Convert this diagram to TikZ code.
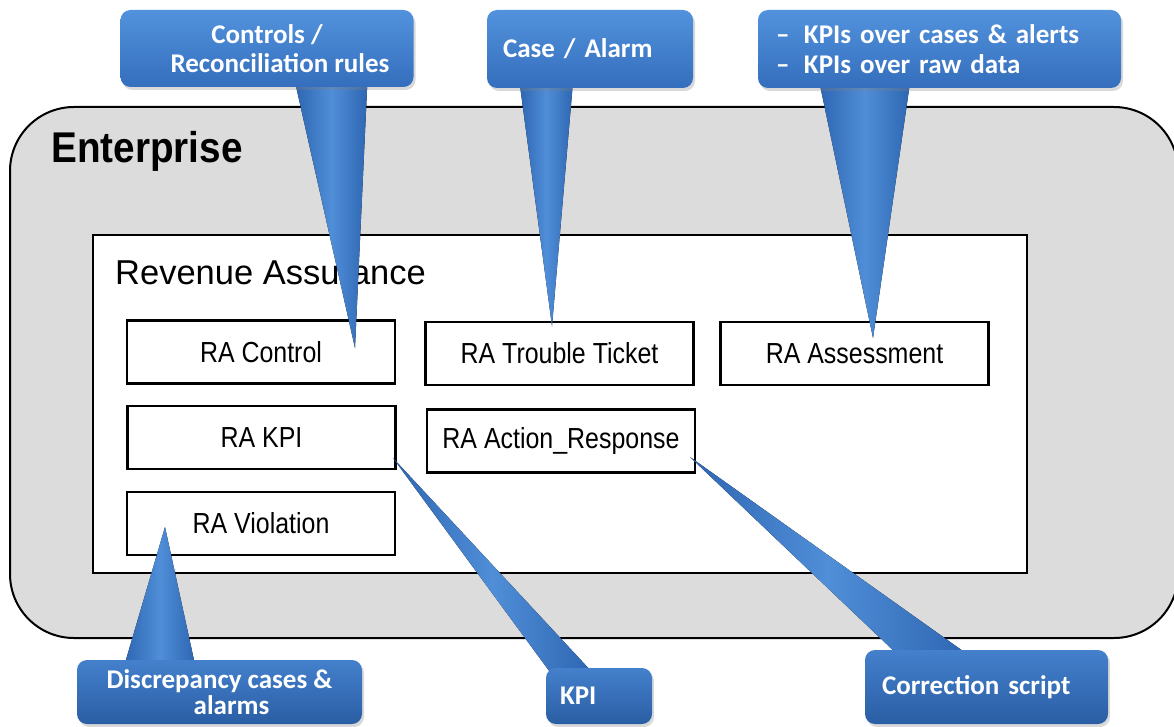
\documentclass[tikz,border=0pt]{standalone}
\usepackage{fontspec}
\setmainfont{Liberation Sans}
\newfontfamily\boxfont{Liberation Sans}[FakeStretch=0.86]
\newfontfamily\entfont{Liberation Sans}[FakeStretch=0.9]
\newfontfamily\calfont{Carlito}
\usetikzlibrary{shadows,calc}
\definecolor{entfill}{RGB}{220,220,220}
\definecolor{ctop}{RGB}{82,146,221}
\definecolor{cbot}{RGB}{52,110,188}
\definecolor{dtop}{RGB}{68,128,204}
\definecolor{dbot}{RGB}{42,94,164}
\definecolor{pmid}{RGB}{80,142,216}
\definecolor{pedge}{RGB}{46,102,178}
\pgfdeclarelayer{bg}
\pgfdeclarelayer{ptr}
\pgfsetlayers{bg,ptr,main}
\begin{document}
\begin{tikzpicture}[x=1pt,y=-1pt,
  entbox/.style={draw=black, line width=2pt, fill=entfill, rounded corners=64pt, inner sep=0pt},
  rarect/.style={draw=black, line width=2.4pt, fill=white, inner sep=0pt},
  rabox/.style={draw=black, line width=2.4pt, fill=white, minimum width=268pt, minimum height=63pt, inner sep=0pt, font=\boxfont\fontsize{29}{29}\selectfont},
  callout/.style={rounded corners=10pt, top color=ctop, bottom color=cbot, inner sep=0pt, text=white,
    font=\calfont\bfseries\fontsize{27}{29.5}\selectfont,
    drop shadow={opacity=0.3, shadow xshift=2pt, shadow yshift=-3pt}},
  calloutdark/.style={callout, top color=dtop, bottom color=dbot, font=\calfont\bfseries\fontsize{27}{26}\selectfont},
  pointer/.style={left color=pedge, right color=pedge, middle color=pmid},
]
\useasboundingbox (0,0) rectangle (1174,727);
\clip (0,0) rectangle (1174,727);

\begin{pgfonlayer}{bg}
\node[entbox, minimum width=1168pt, minimum height=531pt] (ent) at (594,372.5) {};
\node[anchor=base west, inner sep=0pt, font=\entfont\bfseries\fontsize{43}{43}\selectfont] (entlbl) at (51,163) {Enterprise};
\node[rarect, minimum width=934pt, minimum height=338pt] (ra) at (560,404) {};
\node[anchor=base west, inner sep=0pt, font=\fontsize{34.5}{34.5}\selectfont] (ralbl) at (115,284) {Revenue Assurance};
\node[rabox] (ctl) at (261,352) {RA Control};
\node[rabox] (tt) at (559.5,353.5) {RA Trouble Ticket};
\node[rabox] (as) at (854.5,353.5) {RA Assessment};
\node[rabox] (kpi) at (261.5,437.5) {RA KPI};
\node[rabox] (ar) at (561,441) {RA Action\_Response};
\node[rabox] (vio) at (261,523.5) {RA Violation};
\end{pgfonlayer}

% callouts
\node[callout, minimum width=293pt, minimum height=77pt, align=center] (c1) at (267,48.5)
  {Controls /\\\hspace*{26pt}Reconciliation rules};
\node[callout, minimum width=206pt, minimum height=78pt, text width=174pt, align=left] (c2) at (590,49)
  {Case / Alarm};
\node[callout, minimum width=363pt, minimum height=78pt, text width=327pt, align=left] (c3) at (939.5,49)
  {\makebox[28pt][l]{–}KPIs over cases \& alerts\\\makebox[28pt][l]{–}KPIs over raw data};
\node[calloutdark, minimum width=285pt, minimum height=64pt, align=center] (c4) at (219.5,692)
  {Discrepancy cases \&\\\hspace*{24pt}alarms};
\node[calloutdark, minimum width=106pt, minimum height=56pt, text width=78pt, align=left] (c5) at (599,696)
  {KPI};
\node[calloutdark, minimum width=243pt, minimum height=74pt, text width=209pt, align=left] (c6) at (986.5,687)
  {Correction script};

% pointer tips
\coordinate (t1) at (355,348);
\coordinate (t2) at (552,326);
\coordinate (t3) at (873,338);
\coordinate (t4) at (165,527);
\coordinate (t5) at (393,458);
\coordinate (t6) at (690,457);

\begin{pgfonlayer}{ptr}
\fill[pointer] ($(c1.south west)+(175,-4)$) -- (t1) -- ($(c1.south west)+(247,-4)$) -- cycle;
\fill[pointer] ($(c2.south west)+(33,-4)$) -- (t2) -- ($(c2.south west)+(86,-4)$) -- cycle;
\fill[pointer] ($(c3.south west)+(62,-4)$) -- (t3) -- ($(c3.south west)+(152,-4)$) -- cycle;
\fill[pointer] ($(c4.north west)+(48,4)$) -- (t4) -- ($(c4.north west)+(118,4)$) -- cycle;
\fill[pointer] (t5) -- ($(c5.north west)+(4,4)$) -- ($(c5.north west)+(46,4)$) -- cycle;
\fill[pointer] (t6) -- ($(c6.north west)+(32,4)$) -- ($(c6.north west)+(102,4)$) -- cycle;
\end{pgfonlayer}
\end{tikzpicture}
\end{document}
